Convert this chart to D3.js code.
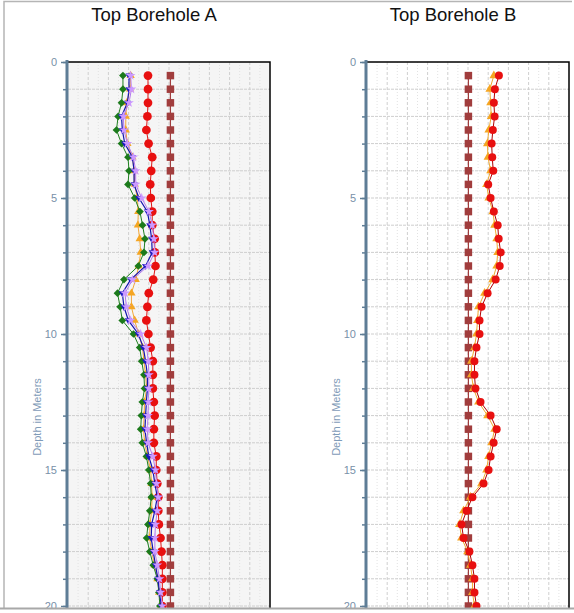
<!DOCTYPE html>
<html>
<head>
<meta charset="utf-8">
<script src="https://cdn.jsdelivr.net/npm/d3@7"></script>
<style>
  body { margin: 0; background: #fff; }
  svg { display: block; font-family: "Liberation Sans", Arial, sans-serif; }
</style>
</head>
<body>
<svg id="chart" width="574" height="613"></svg>
<script>
// depth of every reading, in meters
const depths = [0.5, 1, 1.5, 2, 2.5, 3, 3.5, 4, 4.5, 5, 5.5, 6, 6.5, 7, 7.5, 8, 8.5, 9, 9.5, 10,
  10.5, 11, 11.5, 12, 12.5, 13, 13.5, 14, 14.5, 15, 15.5, 16, 16.5, 17, 17.5, 18, 18.5, 19, 19.5, 20];

const depthTicks = [0, 5, 10, 15, 20];

// Borehole A readings
const aBrown = [50.7, 50.7, 50.7, 50.7, 50.7, 50.7, 50.7, 50.7, 50.7, 50.7, 50.7, 50.7, 50.7, 50.7, 50.7, 50.7, 50.7, 50.7, 50.7, 50.7,
  50.7, 50.7, 50.7, 50.7, 50.7, 50.7, 50.7, 50.7, 50.7, 50.7, 50.7, 50.7, 50.7, 50.7, 50.7, 50.7, 50.7, 50.7, 50.7, 50.7];
const aRed = [39.6, 39.6, 39.6, 39.3, 38.8, 39.9, 41.7, 41.2, 40.7, 41.0, 41.7, 41.7, 42.9, 43.0, 43.3, 42.2, 40.0, 39.3, 38.8, 39.8,
  40.9, 42.0, 42.0, 42.0, 42.5, 42.9, 42.5, 42.5, 43.7, 43.7, 44.2, 44.7, 44.7, 45.0, 45.8, 46.3, 46.7, 46.7, 46.7, 46.7];
const aOrange = [31.0, 30.7, 29.1, 28.6, 28.6, 29.4, 31.9, 32.7, 33.0, 34.3, 34.8, 34.6, 35.5, 36.0, 35.0, 33.5, 31.4, 31.4, 33.0, 35.0,
  36.9, 37.6, 38.4, 38.9, 37.9, 37.7, 37.4, 37.9, 39.4, 40.9, 41.4, 41.6, 41.4, 40.6, 40.4, 41.4, 42.9, 44.3, 45.1, 45.8];
const aGreen = [27.2, 27.2, 26.5, 24.8, 24.0, 26.5, 29.7, 30.2, 29.7, 33.0, 35.6, 36.9, 38.1, 37.6, 34.8, 27.7, 24.5, 25.8, 26.9, 32.4,
  35.5, 36.5, 37.6, 37.9, 36.8, 36.3, 36.0, 36.8, 38.8, 40.0, 40.9, 41.2, 40.5, 39.6, 38.9, 40.5, 42.2, 44.2, 45.0, 45.5];
const aBlue = [30.2, 30.2, 29.4, 26.5, 26.9, 28.1, 31.9, 32.7, 32.7, 35.1, 39.3, 40.5, 41.4, 41.7, 38.4, 31.0, 26.9, 27.7, 29.9, 34.8,
  37.3, 38.4, 39.3, 39.3, 38.8, 38.4, 38.1, 38.9, 40.0, 42.0, 43.0, 44.2, 43.0, 41.4, 41.2, 42.2, 43.3, 44.5, 45.3, 46.2];
const aViolet = [31.0, 31.4, 30.2, 27.4, 27.7, 29.4, 32.4, 33.5, 33.5, 36.5, 40.1, 41.7, 42.5, 42.9, 39.6, 31.9, 28.2, 28.9, 31.0, 36.0,
  38.9, 39.8, 40.0, 40.0, 39.8, 39.6, 39.3, 39.6, 42.0, 43.3, 43.8, 44.7, 44.2, 43.3, 43.0, 43.0, 44.2, 45.3, 45.8, 46.7];

// Borehole B readings
const bBrown = [50.2, 50.2, 50.2, 50.2, 50.2, 50.2, 50.2, 50.2, 50.2, 50.2, 50.2, 50.2, 50.2, 50.2, 50.2, 50.2, 50.2, 50.2, 50.2, 50.2,
  50.2, 50.2, 50.2, 50.2, 50.2, 50.2, 50.2, 50.2, 50.2, 50.2, 50.2, 50.2, 50.2, 50.2, 50.2, 50.2, 50.2, 50.2, 50.2, 50.2];
const bOrange = [62.8, 60.8, 61.2, 61.5, 60.3, 59.6, 59.9, 61.2, 59.2, 60.3, 62.3, 63.2, 64.2, 64.7, 64.2, 62.2, 58.2, 55.2, 54.7, 54.2,
  53.2, 51.7, 51.7, 52.7, 55.2, 59.7, 63.2, 61.7, 60.2, 59.2, 56.7, 51.2, 47.8, 45.8, 46.8, 49.8, 51.2, 52.2, 52.2, 53.2];
const bRed = [65.3, 63.3, 62.8, 63.2, 62.3, 61.7, 62.0, 62.5, 60.0, 61.2, 62.8, 64.7, 65.2, 66.2, 65.7, 63.7, 59.7, 56.7, 55.7, 55.7,
  54.2, 53.2, 53.2, 53.7, 56.2, 61.2, 64.2, 62.7, 61.2, 60.2, 57.7, 52.2, 49.3, 46.8, 47.8, 50.7, 52.2, 53.2, 53.2, 54.2];

const svg = d3.select('#chart');

const plotTop = 62, plotW = 202, clipBottom = 608;
const y = d3.scaleLinear().domain([0, 20]).range([plotTop, 606]);

function marker(type, size, rotate) {
  const path = d3.symbol().type(type).size(size)();
  return { path, rotate: rotate || 0 };
}

function drawPanel(opts) {
  const x0 = opts.x0;
  const x = d3.scaleLinear().domain([0, 100]).range([x0, x0 + plotW]);
  const g = svg.append('g');

  g.append('rect')
    .attr('x', x0).attr('y', plotTop)
    .attr('width', plotW).attr('height', clipBottom - plotTop)
    .attr('fill', opts.bg);

  // vertical grid
  g.append('g')
    .selectAll('line')
    .data(d3.range(5, 100, 5))
    .join('line')
      .attr('x1', d => x(d)).attr('x2', d => x(d))
      .attr('y1', plotTop).attr('y2', clipBottom)
      .attr('stroke', d => d % 10 === 0 ? '#cfcfcf' : '#e2e2e2')
      .attr('stroke-dasharray', d => d % 10 === 0 ? '3,2' : '1,2');

  // horizontal grid
  g.append('g')
    .selectAll('line')
    .data(d3.range(1, 21))
    .join('line')
      .attr('x1', x0).attr('x2', x0 + plotW)
      .attr('y1', d => y(d)).attr('y2', d => y(d))
      .attr('stroke', '#cecece')
      .attr('stroke-dasharray', '3,1');

  // series
  opts.series.forEach(s => {
    const pts = depths.map((d, i) => [x(s.values[i]), y(d)]);
    g.append('path')
      .attr('d', d3.line()(pts))
      .attr('fill', 'none')
      .attr('stroke', s.line)
      .attr('stroke-width', s.lineWidth || 1);
    g.append('g')
      .selectAll('path')
      .data(pts)
      .join('path')
        .attr('d', s.marker.path)
        .attr('transform', p => `translate(${p[0]},${p[1]}) rotate(${s.marker.rotate})`)
        .attr('fill', s.fill);
  });

  // frame top and right
  g.append('path')
    .attr('d', `M${x0},${plotTop}H${x0 + plotW}V${clipBottom}`)
    .attr('fill', 'none')
    .attr('stroke', '#000')
    .attr('stroke-width', 1.5);

  // depth axis
  const axisColor = '#5e7d96';
  g.append('g')
    .attr('transform', `translate(${x0 - 1},0)`)
    .call(d3.axisLeft(y).tickValues(d3.range(0, 21)).tickSize(4).tickFormat(''))
    .call(a => a.select('.domain').remove())
    .call(a => a.selectAll('.tick line').attr('stroke', axisColor).attr('stroke-width', 1.5));
  g.append('g')
    .attr('transform', `translate(${x0 - 1},0)`)
    .call(d3.axisLeft(y).tickValues(depthTicks).tickSize(6).tickPadding(4))
    .call(a => a.select('.domain').remove())
    .call(a => a.selectAll('.tick line').attr('stroke', axisColor).attr('stroke-width', 1.5))
    .call(a => a.selectAll('.tick text')
      .attr('fill', '#7890a8')
      .attr('font-size', 11)
      .attr('font-family', '"Liberation Sans", Arial, sans-serif'));
  g.append('line')
    .attr('x1', x0 - 1).attr('x2', x0 - 1)
    .attr('y1', plotTop - 2).attr('y2', 613)
    .attr('stroke', axisColor)
    .attr('stroke-width', 3);

  g.append('text')
    .attr('transform', `translate(${x0 - 27},417) rotate(-90)`)
    .attr('text-anchor', 'middle')
    .attr('font-size', 11)
    .attr('fill', '#7f9bb8')
    .text('Depth in Meters');

  g.append('text')
    .attr('x', x0 + 86).attr('y', 21)
    .attr('text-anchor', 'middle')
    .attr('font-size', 18.5)
    .attr('fill', '#111')
    .text(opts.title);
}

drawPanel({
  title: 'Top Borehole A', x0: 68, bg: '#f5f5f5',
  series: [
    { values: aBrown, line: '#a13d3d', lineWidth: 1.2, fill: '#a13d3d', marker: marker(d3.symbolSquare, 56) },
    { values: aRed, line: '#e01515', fill: '#e81010', marker: marker(d3.symbolCircle, 60) },
    { values: aOrange, line: '#f2a83a', fill: '#f5a623', marker: marker(d3.symbolTriangle, 30) },
    { values: aGreen, line: '#1f801f', fill: '#1b7a1b', marker: marker(d3.symbolSquare, 30, 45) },
    { values: aBlue, line: '#1414b0', lineWidth: 1.2, fill: '#1a1ac0', marker: marker(d3.symbolTriangle, 22, 180) },
    { values: aViolet, line: '#b478f0', fill: '#cc99ff', marker: marker(d3.symbolStar, 30) }
  ]
});

drawPanel({
  title: 'Top Borehole B', x0: 367, bg: '#ffffff',
  series: [
    { values: bBrown, line: '#a13d3d', lineWidth: 1.2, fill: '#a13d3d', marker: marker(d3.symbolSquare, 56) },
    { values: bOrange, line: '#f0a830', fill: '#f5a623', marker: marker(d3.symbolTriangle, 34) },
    { values: bRed, line: '#b00000', fill: '#e81010', marker: marker(d3.symbolCircle, 50) }
  ]
});

// outer frame, cropped at the bottom
svg.append('rect').attr('x', 0).attr('y', clipBottom).attr('width', 574).attr('height', 613 - clipBottom).attr('fill', '#fff');
svg.append('path')
  .attr('d', `M4,${clipBottom}V1.5H572`)
  .attr('fill', 'none')
  .attr('stroke', '#b5b5b5')
  .attr('stroke-width', 1.5);
svg.append('line')
  .attr('x1', 0).attr('x2', 574)
  .attr('y1', clipBottom + 0.5).attr('y2', clipBottom + 0.5)
  .attr('stroke', '#a8a8a8')
  .attr('stroke-width', 2);
</script>
</body>
</html>
